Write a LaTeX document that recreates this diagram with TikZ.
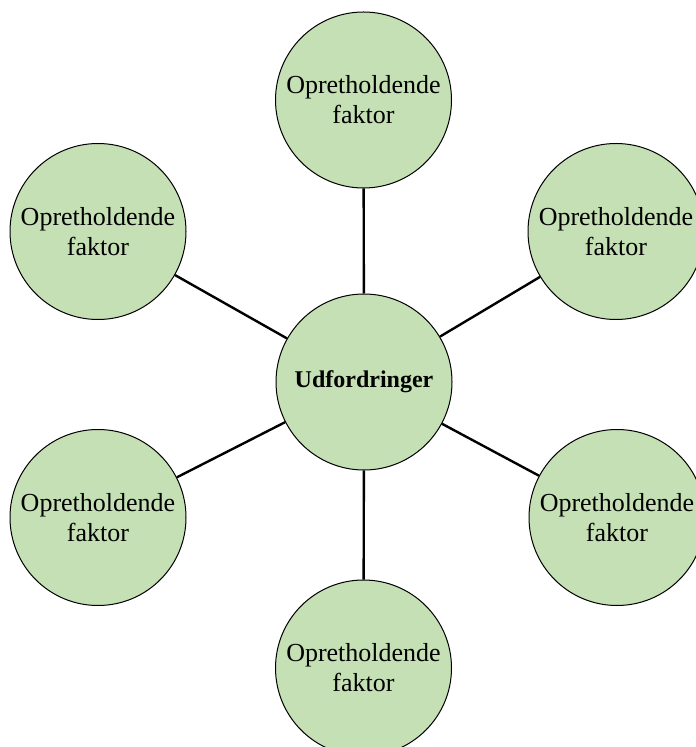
\documentclass[tikz,border=0pt]{standalone}
\usepackage{fontspec}
\setmainfont{Liberation Serif}
\definecolor{factgreen}{RGB}{197, 224, 180}
\usetikzlibrary{positioning}

\begin{document}
\begin{tikzpicture}[x=0.5pt, y=-0.5pt,
    factor/.style={circle, draw=black, line width=0.5pt, fill=factgreen, minimum size=88pt, inner sep=0pt, align=center, font=\fontsize{13}{15}\selectfont},
    spoke/.style={draw=black, line width=1.2pt}]
  \useasboundingbox (0, 0) rectangle (695, 747);

  % Centre
  \node[factor, font=\fontsize{12}{14}\selectfont\bfseries] (udf) at (364, 382) {Udfordringer};

  % Factors
  \node[factor] (top) at (363.5, 100) {Opretholdende\\faktor};
  \node[factor] (topleft) at (98, 231.5) {Opretholdende\\faktor};
  \node[factor] (topright) at (616, 231.5) {Opretholdende\\faktor};
  \node[factor] (botleft) at (98, 517.5) {Opretholdende\\faktor};
  \node[factor] (botright) at (617, 517.5) {Opretholdende\\faktor};
  \node[factor] (bot) at (363.5, 668) {Opretholdende\\faktor};

  % Spokes
  \draw[spoke] (udf) -- (top);
  \draw[spoke] (udf) -- (topleft);
  \draw[spoke] (udf) -- (topright);
  \draw[spoke] (udf) -- (botleft);
  \draw[spoke] (udf) -- (botright);
  \draw[spoke] (udf) -- (bot);
\end{tikzpicture}
\end{document}
